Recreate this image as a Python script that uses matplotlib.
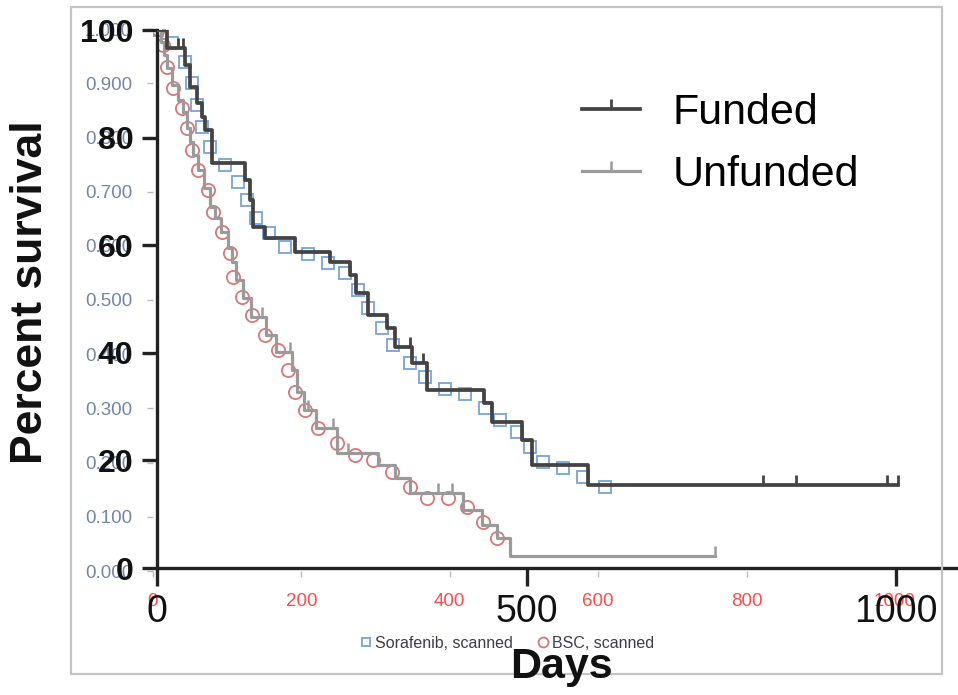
import matplotlib
matplotlib.use('Agg')
import matplotlib.pyplot as plt
from matplotlib.path import Path
from matplotlib.lines import Line2D
from matplotlib.patches import Rectangle

plt.rcParams['font.family'] = ['Liberation Sans', 'DejaVu Sans']

# ---- Kaplan-Meier curves (days, percent survival) ----
funded_days = [0, 14, 38, 45, 54, 61, 65, 74, 119, 126, 130, 146, 187, 234, 261, 269,
               286, 311, 322, 345, 365, 443, 453, 494, 507, 583, 1003]
funded_surv = [100, 96.7, 93.5, 89.4, 86.4, 83.8, 81.4, 75.3, 72.1, 68.4, 63.4, 61.3,
               58.7, 56.9, 54.5, 51.1, 47.0, 44.6, 41.1, 38.1, 33.1, 30.7, 27.1, 23.8,
               19.1, 15.4, 15.4]
funded_cens_days = [28, 35, 342, 360, 820, 865, 988, 1003]
funded_cens_surv = [96.7, 96.7, 41.1, 38.1, 15.4, 15.4, 15.4, 15.4]

unfunded_days = [0, 5, 10, 14, 20, 28, 35, 41, 45, 49, 56, 64, 72, 79, 87, 96, 102, 107,
                 116, 127, 148, 161, 183, 189, 199, 215, 244, 299, 322, 342, 414, 440,
                 460, 478, 755]
unfunded_surv = [100, 97.8, 95.4, 92.9, 89.8, 87.0, 84.8, 81.8, 79.2, 76.8, 74.0, 70.6,
                 67.1, 65.1, 62.5, 59.5, 56.9, 53.5, 50.2, 46.7, 43.3, 40.1, 36.8, 32.7,
                 29.4, 26.0, 21.4, 19.1, 16.7, 13.9, 10.8, 8.0, 5.6, 2.2, 2.2]
unfunded_cens_days = [142, 180, 204, 238, 258, 380, 399, 755]
unfunded_cens_surv = [46.7, 40.1, 29.4, 26.0, 21.4, 13.9, 13.9, 2.2]

main_xticks = [0, 500, 1000]
main_yticks = [0, 20, 40, 60, 80, 100]

# ---- scanned data overlay (days, survival fraction) ----
sorafenib_days = [5, 26, 43, 53, 59, 66, 77, 97, 115, 127, 139, 156, 178, 209, 236, 259,
                  276, 290, 309, 323, 346, 367, 394, 420, 447, 468, 491, 508, 526, 553,
                  580, 609]
sorafenib_surv = [0.998, 0.974, 0.939, 0.900, 0.860, 0.819, 0.782, 0.749, 0.718, 0.685,
                  0.651, 0.624, 0.598, 0.585, 0.568, 0.550, 0.518, 0.485, 0.448, 0.417,
                  0.384, 0.358, 0.336, 0.327, 0.301, 0.279, 0.256, 0.229, 0.201, 0.190,
                  0.173, 0.155]
bsc_days = [7, 13, 19, 27, 39, 46, 53, 61, 74, 81, 93, 104, 108, 120, 133, 151, 168, 182,
            191, 205, 222, 248, 272, 296, 322, 346, 369, 398, 423, 445, 464]
bsc_surv = [1.0, 0.970, 0.930, 0.891, 0.854, 0.817, 0.777, 0.740, 0.703, 0.662, 0.625,
            0.587, 0.542, 0.506, 0.472, 0.435, 0.408, 0.371, 0.330, 0.297, 0.264, 0.236,
            0.214, 0.205, 0.183, 0.155, 0.135, 0.135, 0.118, 0.090, 0.061]
bg_xticks = [0, 200, 400, 600, 800, 1000]
bg_yticks = [0.0, 0.1, 0.2, 0.3, 0.4, 0.5, 0.6, 0.7, 0.8, 0.9, 1.0]

W, H = 958, 695
fig = plt.figure(figsize=(W / 100, H / 100), dpi=100)
fig.patch.set_facecolor('white')

# outer frame of the scanned picture
fig.patches.append(Rectangle((71 / W, 1 - 674 / H), (942 - 71) / W, (674 - 7) / H,
                             transform=fig.transFigure, fill=False,
                             ec='#c4c4c4', lw=1.6, zorder=0))

# ---- background (scanned) axes ----
bg = fig.add_axes([153 / W, (H - 571) / H, 742 / W, 542 / H])
bg.set_facecolor('none')
bg.set_xlim(0, 1000)
bg.set_ylim(0, 1)
for s in bg.spines.values():
    s.set_visible(False)
bg.set_xticks(bg_xticks)
bg.set_xticklabels([str(v) for v in bg_xticks])
bg.set_yticks(bg_yticks)
bg.set_yticklabels(['%.3f' % v for v in bg_yticks])
bg.tick_params(axis='x', colors='#bbbbbb', labelcolor='#ff4a4a', labelsize=13.5,
               length=4, width=1, pad=12)
bg.tick_params(axis='y', colors='#bbbbbb', labelcolor='#7385a8', labelsize=13.5,
               length=4, width=1, pad=11)
bg.plot(sorafenib_days, sorafenib_surv, ls='none', marker='s', ms=8.5, mfc='none',
        mec='#76a3d9', mew=1.3, label='Sorafenib, scanned')
bg.plot(bsc_days, bsc_surv, ls='none', marker='o', ms=9.5, mfc='none',
        mec='#d97676', mew=1.3, label='BSC, scanned')
bleg = bg.legend(loc='center', bbox_to_anchor=(508 / W, 1 - 643 / H),
                 bbox_transform=fig.transFigure, ncol=2, frameon=False, fontsize=11.5,
                 handlelength=0.6, handletextpad=0.25, columnspacing=1.6,
                 markerscale=0.75, borderpad=0)
for t in bleg.get_texts():
    t.set_color('#3c3c4c')

# ---- main Kaplan-Meier axes ----
ax = fig.add_axes([157 / W, (H - 568) / H, 1090 * 0.739 / W, 538 / H])
ax.set_facecolor('none')
ax.set_xlim(0, 1090)
ax.set_ylim(0, 100)
for side in ['top', 'right']:
    ax.spines[side].set_visible(False)
for side in ['left', 'bottom']:
    ax.spines[side].set_linewidth(2.4)
    ax.spines[side].set_color('#222222')

cens = Path([(0, 0), (0, 1)], [Path.MOVETO, Path.LINETO])
c_fund = '#434343'
c_unf = '#9a9a9a'

ax.step(funded_days, funded_surv, where='post', color=c_fund, lw=2.7, zorder=4)
ax.step(unfunded_days, unfunded_surv, where='post', color=c_unf, lw=2.3, zorder=3)
ax.plot(funded_cens_days, funded_cens_surv, ls='none', marker=cens, ms=15, mfc='none',
        mec=c_fund, mew=2.0, zorder=4)
ax.plot(unfunded_cens_days, unfunded_cens_surv, ls='none', marker=cens, ms=15, mfc='none',
        mec=c_unf, mew=1.8, zorder=3)

ax.set_xticks(main_xticks)
ax.set_xticklabels([str(v) for v in main_xticks])
ax.set_yticks(main_yticks)
ax.set_yticklabels([str(v) for v in main_yticks])
ax.tick_params(axis='x', length=13, width=2.4, color='#222222', labelsize=27, pad=6,
               labelcolor='#111111')
ax.tick_params(axis='y', length=11, width=2.4, color='#222222', labelsize=23, pad=6,
               labelcolor='#111111')
for lbl in ax.get_yticklabels():
    lbl.set_fontweight('bold')

handles = [Line2D([], [], color=c_fund, lw=2.7, marker=cens, ms=15, mfc='none',
                  mec=c_fund, mew=2.0),
           Line2D([], [], color=c_unf, lw=2.3, marker=cens, ms=15, mfc='none',
                  mec=c_unf, mew=1.8)]
ax.legend(handles, ['Funded', 'Unfunded'], loc='upper left',
          bbox_to_anchor=(582 / W, 1 - 93 / H), bbox_transform=fig.transFigure,
          frameon=False, fontsize=31, handlelength=1.35, handletextpad=0.75,
          labelspacing=0.52, borderpad=0, borderaxespad=0, numpoints=1)

fig.text(31 / W, 1 - 292 / H, 'Percent survival', rotation=90, ha='center', va='center',
         fontsize=32, fontweight='bold', color='#111111')
fig.text(561 / W, 1 - 678 / H, 'Days', ha='center', va='baseline', fontsize=31,
         fontweight='bold', color='#111111')

fig.savefig('out.png', dpi=100)
